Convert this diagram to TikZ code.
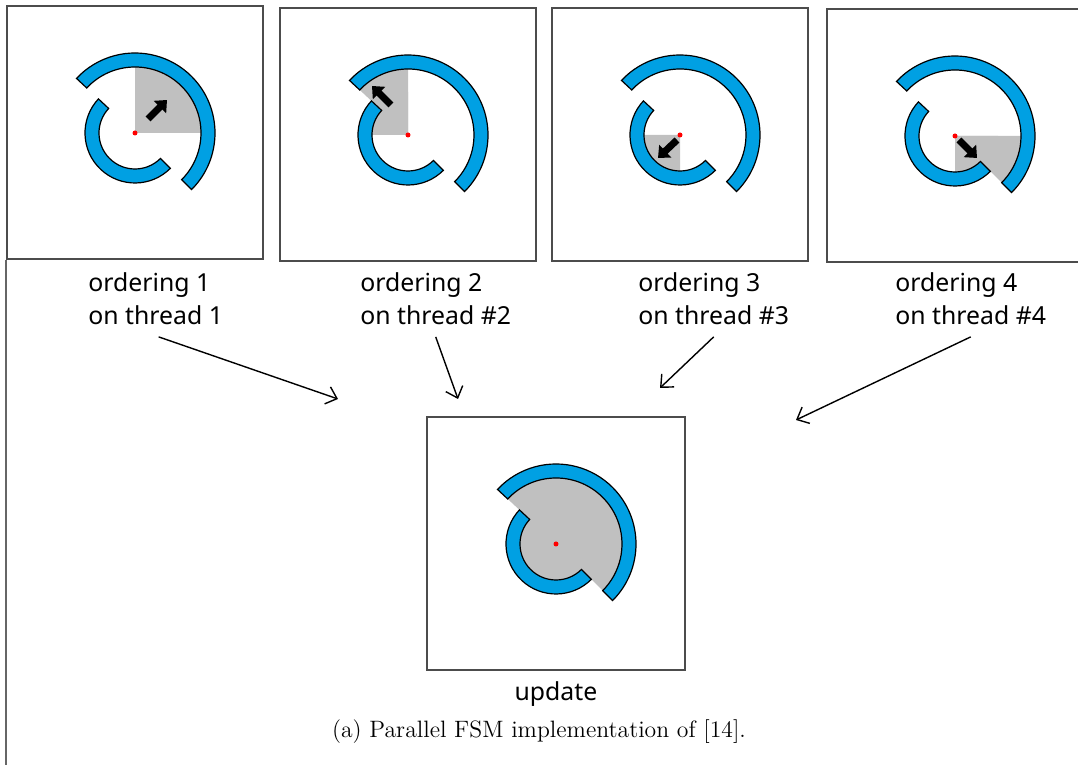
\documentclass[tikz,border=0pt]{standalone}
\usepackage{fontspec}
\newfontfamily\lblfont{Noto Sans}
\usetikzlibrary{positioning,arrows.meta,calc}
\definecolor{ringblue}{RGB}{0,160,227}
\definecolor{seengray}{RGB}{192,192,192}

\begin{document}
\begin{tikzpicture}[x=0.5pt, y=0.5pt,
    panel/.style={draw=black!70, line width=1pt, minimum width=128pt, minimum height=126.5pt, inner sep=0pt},
    lbl/.style={font=\lblfont\fontsize{12.4}{16.5}\selectfont, align=left, inner sep=0pt},
    ring/.style={draw=black, line width=0.6pt, fill=ringblue},
    seen/.style={fill=seengray},
    mover/.style={line width=3.5pt, -{Triangle[length=5pt, width=8.5pt]}},
    hub/.style={fill=red},
    flow/.style={line width=0.7pt, -{Straight Barb[length=5pt, width=9pt]}},
    spiral/.pic={
      \draw[ring] (-45:80) arc[start angle=-45, end angle=137, radius=80]
        -- (137:66) arc[start angle=137, end angle=-45, radius=66] -- cycle;
      \draw[ring] (137:50) arc[start angle=137, end angle=315, radius=50]
        -- (315:36) arc[start angle=315, end angle=137, radius=36] -- cycle;
    }]
  \useasboundingbox (0,0) rectangle (1078,765);

  % the four orderings
  \node[panel] (p1) at (135,632) {};
  \node[panel] (p2) at (408,630) {};
  \node[panel] (p3) at (680,630) {};
  \node[panel] (p4) at (955,629) {};
  \draw[draw=black!60, line width=1pt] (p1.south west) -- (p1.south west |- 0,0);

  \fill[seen] (p1.center) -- ++(0:66) arc[start angle=0, end angle=90, radius=66] -- cycle;
  \pic at (p1.center) {spiral};
  \draw[mover] ([shift={(13,14)}]p1.center) -- ([shift={(32,33)}]p1.center);
  \fill[hub] (p1.center) circle (2.5);

  \fill[seen] (p2.center) -- ++(90:66) arc[start angle=90, end angle=137, radius=66] -- cycle;
  \fill[seen] (p2.center) -- ++(90:43) arc[start angle=90, end angle=180, radius=43] -- cycle;
  \pic at (p2.center) {spiral};
  \draw[mover] ([shift={(-17,30)}]p2.center) -- ([shift={(-36,49)}]p2.center);
  \fill[hub] (p2.center) circle (2.5);

  \fill[seen] (p3.center) -- ++(180:43) arc[start angle=180, end angle=270, radius=43] -- cycle;
  \pic at (p3.center) {spiral};
  \draw[mover] ([shift={(-3,-5)}]p3.center) -- ([shift={(-22,-23)}]p3.center);
  \fill[hub] (p3.center) circle (2.5);

  \fill[seen] (p4.center) -- ++(270:43) arc[start angle=270, end angle=360, radius=43] -- cycle;
  \fill[seen] (p4.center) -- ++(-45:66) arc[start angle=-45, end angle=0, radius=66] -- cycle;
  \pic at (p4.center) {spiral};
  \draw[mover] ([shift={(4,-4)}]p4.center) -- ([shift={(22,-22)}]p4.center);
  \fill[hub] (p4.center) circle (2.5);

  \node[lbl, anchor=north west] (l1) at (88,493) {ordering 1\\on thread 1};
  \node[lbl, anchor=north west] (l2) at (360,493) {ordering 2\\on thread \#2};
  \node[lbl, anchor=north west] (l3) at (638,493) {ordering 3\\on thread \#3};
  \node[lbl, anchor=north west] (l4) at (895,493) {ordering 4\\on thread \#4};

  % merged result
  \node[panel, minimum width=129pt] (upd) at (556,221) {};
  \fill[seen] (upd.center) -- ++(-45:66) arc[start angle=-45, end angle=137, radius=66] -- cycle;
  \fill[seen] (upd.center) circle (43);
  \pic at (upd.center) {spiral};
  \fill[hub] (upd.center) circle (2.5);
  \node[lbl, below=5pt of upd] (ul) {update};

  \coordinate (t1) at (338,366);
  \coordinate (t2) at (458,366);
  \coordinate (t3) at (660,377);
  \coordinate (t4) at (796,345);
  \draw[flow] ([shift={(1.5pt,-6pt)}]l1.south) -- (t1);
  \draw[flow] ([yshift=-6pt]l2.south) -- (t2);
  \draw[flow] ([yshift=-6pt]l3.south) -- (t3);
  \draw[flow] ([yshift=-6pt]l4.south) -- (t4);

  \node[font=\fontsize{11.85}{14}\selectfont, inner sep=0pt] (cap) at (539,33) {(a) Parallel FSM implementation of [14].};
\end{tikzpicture}
\end{document}
